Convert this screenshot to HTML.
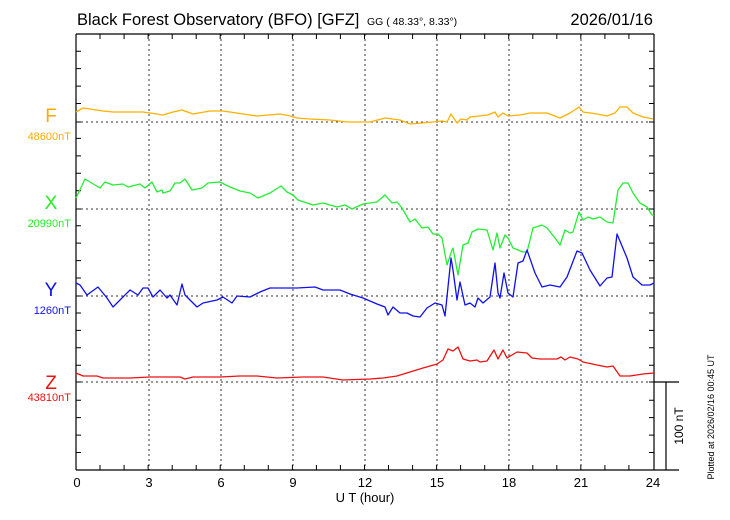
<!DOCTYPE html>
<html><head><meta charset="utf-8"><style>
html,body{margin:0;padding:0;background:#fff;}
svg{display:block;font-family:"Liberation Sans",sans-serif;}
</style></head><body>
<svg width="730" height="520" viewBox="0 0 730 520" xmlns="http://www.w3.org/2000/svg">
<rect width="730" height="520" fill="#fff"/>
<text x="77" y="25" font-size="16.5" fill="#000">Black Forest Observatory (BFO)  [GFZ]</text>
<text x="367" y="25" font-size="10.5" fill="#000">GG ( 48.33°,   8.33°)</text>
<text x="653" y="25" font-size="16.5" fill="#000" text-anchor="end">2026/01/16</text>
<g stroke="#333" stroke-width="1" stroke-dasharray="2,3">
<line x1="149" y1="34" x2="149" y2="470"/><line x1="221" y1="34" x2="221" y2="470"/>
<line x1="293" y1="34" x2="293" y2="470"/><line x1="365" y1="34" x2="365" y2="470"/>
<line x1="437" y1="34" x2="437" y2="470"/><line x1="509" y1="34" x2="509" y2="470"/>
<line x1="581" y1="34" x2="581" y2="470"/>
<line x1="76" y1="122" x2="654" y2="122"/><line x1="76" y1="209" x2="654" y2="209"/>
<line x1="76" y1="296" x2="654" y2="296"/><line x1="76" y1="382" x2="654" y2="382"/>
</g>
<g stroke="#000" stroke-width="1.2" fill="none">
<line x1="76" y1="34" x2="654" y2="34"/>
<line x1="76" y1="34" x2="76" y2="470"/>
<line x1="654" y1="34" x2="654" y2="470"/>
<line x1="76" y1="470" x2="679" y2="470"/>
<line x1="654" y1="382" x2="679" y2="382"/>
<line x1="666" y1="382" x2="666" y2="470"/>
</g>
<path stroke="#000" stroke-width="1" fill="none" d="
M100,34v5M124.1,34v5M148.1,34v5M172.2,34v5M196.2,34v5M220.2,34v5M244.3,34v5M268.3,34v5M292.4,34v5M316.4,34v5M340.4,34v5M364.5,34v5M388.5,34v5M412.6,34v5M436.6,34v5M460.6,34v5M484.7,34v5M508.7,34v5M532.8,34v5M556.8,34v5M580.8,34v5M604.9,34v5M628.9,34v5
M100,470v-5M124.1,470v-5M148.1,470v-5M172.2,470v-5M196.2,470v-5M220.2,470v-5M244.3,470v-5M268.3,470v-5M292.4,470v-5M316.4,470v-5M340.4,470v-5M364.5,470v-5M388.5,470v-5M412.6,470v-5M436.6,470v-5M460.6,470v-5M484.7,470v-5M508.7,470v-5M532.8,470v-5M556.8,470v-5M580.8,470v-5M604.9,470v-5M628.9,470v-5
M76,452.5h5M76,435.1h5M76,417.6h5M76,400.2h5M76,382h5M76,365.3h5M76,347.8h5M76,330.4h5M76,313h5M76,296h5M76,278h5M76,260.6h5M76,243.1h5M76,225.7h5M76,209h5M76,190.8h5M76,173.3h5M76,155.9h5M76,138.4h5M76,122h5M76,103.5h5M76,86.1h5M76,68.6h5M76,51.2h5
M654,452.5h-5M654,435.1h-5M654,417.6h-5M654,400.2h-5M654,382h-5M654,365.3h-5M654,347.8h-5M654,330.4h-5M654,313h-5M654,296h-5M654,278h-5M654,260.6h-5M654,243.1h-5M654,225.7h-5M654,209h-5M654,190.8h-5M654,173.3h-5M654,155.9h-5M654,138.4h-5M654,122h-5M654,103.5h-5M654,86.1h-5M654,68.6h-5M654,51.2h-5"/>
<g font-size="13" fill="#000" text-anchor="middle">
<text x="77" y="487">0</text><text x="149" y="487">3</text><text x="221" y="487">6</text>
<text x="293" y="487">9</text><text x="365" y="487">12</text><text x="437" y="487">15</text>
<text x="509" y="487">18</text><text x="581" y="487">21</text><text x="653" y="487">24</text>
<text x="365" y="502">U T (hour)</text>
</g>
<text transform="translate(683,426) rotate(-90)" font-size="12" text-anchor="middle">100 nT</text>
<text transform="translate(714,417) rotate(-90)" font-size="9" text-anchor="middle">Plotted at 2026/02/16 00:45 UT</text>
<text x="51" y="122" font-size="19" fill="#ffaa00" text-anchor="middle">F</text>
<text x="71" y="140" font-size="11" fill="#ffaa00" text-anchor="end">48600nT</text>
<text x="51" y="209" font-size="19" fill="#22ee22" text-anchor="middle">X</text>
<text x="71" y="227" font-size="11" fill="#22ee22" text-anchor="end">20990nT</text>
<text x="51" y="296" font-size="19" fill="#1010ee" text-anchor="middle">Y</text>
<text x="71" y="314" font-size="11" fill="#1010ee" text-anchor="end">1260nT</text>
<text x="51" y="389" font-size="19" fill="#ee1010" text-anchor="middle">Z</text>
<text x="71" y="401" font-size="11" fill="#ee1010" text-anchor="end">43810nT</text>
<g fill="none" stroke-width="1.3" stroke-linejoin="round">
<polyline stroke="#ffb000" points="76,112 83,108 90,109 103,111 113,112 137,112 143,112 150,113 163,115 173,112 182,110 193,114 210,111 222,111 230,112 243,114 257,116 280,114 290,116 297,118 310,119 330,120 347,122 357,122 370,122 385,118 400,120 410,124 433,122 442,121 447,122 451,114 457,123 461,119 467,120 470,117 488,115 495,112 498,117 503,113 508,116 520,115 530,113 547,113 560,118 570,113 579,107 583,112 597,114 607,116 615,113 620,107 627,107 633,113 643,117 653,119"/>
<polyline stroke="#22ee33" points="76,198 85,179 90,182 100,188 105,182 113,185 123,184 128,187 140,184 145,188 152,182 157,192 162,190 163,193 170,191 175,183 180,183 185,179 192,190 202,188 208,183 220,182 230,187 240,191 250,193 258,198 270,193 281,186 287,192 293,195 298,200 313,205 323,203 337,207 345,205 352,209 363,204 377,202 385,195 392,203 397,202 402,208 410,222 415,219 422,228 428,227 433,234 438,234 442,238 447,265 452,250 453,248 458,275 463,245 468,243 472,232 478,229 487,230 493,250 497,233 500,248 505,235 508,238 513,248 523,252 527,252 533,228 542,225 547,228 555,238 560,245 565,230 570,233 573,232 579,212 583,220 588,217 593,219 600,217 607,222 613,223 618,190 623,183 628,183 633,193 640,203 647,207 652,215 654,215"/>
<polyline stroke="#1010ee" points="76,283 80,285 87,295 98,287 107,298 113,307 120,300 130,290 138,295 143,288 148,288 153,297 160,290 167,298 170,295 177,305 182,284 185,295 197,307 203,303 217,300 223,297 232,303 237,296 250,297 260,292 270,288 283,288 297,288 315,287 323,290 340,290 350,294 363,298 377,304 385,307 388,315 393,307 400,313 407,313 413,316 420,317 427,308 435,303 442,305 445,316 451,258 453,270 457,300 460,282 465,305 470,303 475,307 478,298 483,303 490,297 495,263 498,293 500,298 504,273 508,293 513,297 518,263 523,261 527,250 535,273 542,287 550,285 560,287 567,277 577,251 582,253 590,270 600,286 607,278 612,277 617,234 627,258 633,277 642,285 650,285 654,283"/>
<polyline stroke="#ee1010" points="76,373 83,376 97,376 103,378 130,378 150,377 180,377 185,379 193,377 220,377 240,376 257,376 277,378 303,377 323,377 343,380 370,379 383,378 397,376 410,372 423,368 437,364 443,360 448,349 453,351 458,347 463,359 470,361 477,360 480,362 487,361 494,350 498,359 503,350 507,358 517,352 527,353 532,358 540,359 557,359 561,357 565,360 570,357 578,359 583,362 597,365 607,367 613,366 620,376 630,376 643,374 654,373"/>
</g>
</svg>
</body></html>
